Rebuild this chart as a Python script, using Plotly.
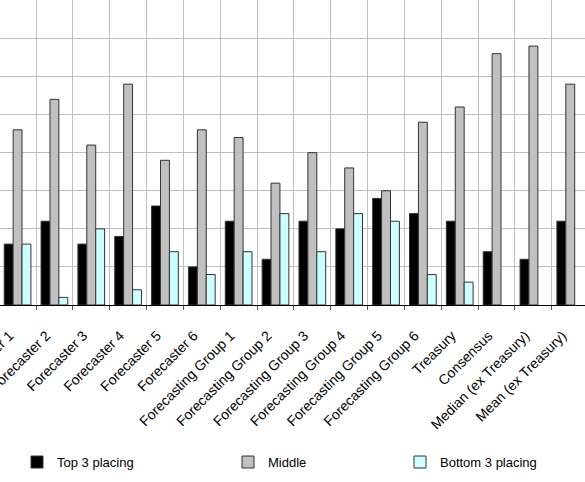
import plotly.graph_objects as go

categories = [
    "Forecaster 1", "Forecaster 2", "Forecaster 3", "Forecaster 4",
    "Forecaster 5", "Forecaster 6", "Forecasting Group 1", "Forecasting Group 2",
    "Forecasting Group 3", "Forecasting Group 4", "Forecasting Group 5",
    "Forecasting Group 6", "Treasury", "Consensus", "Median (ex Treasury)",
    "Mean (ex Treasury)",
]
top3 = [8, 11, 8, 9, 13, 5, 11, 6, 11, 10, 14, 12, 11, 7, 6, 11]
middle = [23, 27, 21, 29, 19, 23, 22, 16, 20, 18, 15, 24, 26, 33, 34, 29]
bottom3 = [8, 1, 10, 2, 7, 4, 7, 12, 7, 12, 11, 4, 3, 0, 0, 0]

series = [
    ("Top 3 placing", top3, "#000000", "legend"),
    ("Middle", middle, "#c0c0c0", "legend2"),
    ("Bottom 3 placing", bottom3, "#ccffff", "legend3"),
]

fig = go.Figure()
for name, vals, color, leg in series:
    fig.add_trace(go.Bar(
        x=categories, y=vals, name=name,
        marker=dict(color=color,
                    line=dict(color="#333333",
                              width=[0 if v == 0 else 1 for v in vals])),
        legend=leg, showlegend=True,
    ))

font = dict(family="Liberation Sans, Arial, sans-serif", size=13, color="#000000")
tick_font = dict(family="Liberation Sans, Arial, sans-serif", size=14, color="#000000")
legend_common = dict(orientation="h", yanchor="middle", y=-0.515, xanchor="left",
                     font=font, bgcolor="rgba(0,0,0,0)")

fig.update_layout(
    width=585, height=482,
    margin=dict(l=0, r=0, t=0, b=177, autoexpand=False),
    paper_bgcolor="white", plot_bgcolor="white",
    barmode="group", bargap=0.275, bargroupgap=0,
    font=font, showlegend=True,
    legend=dict(x=17 / 585, **legend_common),
    legend2=dict(x=228 / 585, **legend_common),
    legend3=dict(x=400 / 585, **legend_common),
    xaxis=dict(
        range=[-0.477, 15.40], automargin=False,
        tickson="boundaries", ticks="outside", ticklen=4, tickcolor="#555555",
        showgrid=True, gridcolor="#c0c0c0", gridwidth=1,
        showline=True, linecolor="#000000", linewidth=1,
        tickangle=-45, tickfont=tick_font,
        ticklabelstandoff=16, ticklabelshift=-8,
    ),
    yaxis=dict(
        range=[0, 40.05], dtick=5, showticklabels=False, automargin=False,
        showgrid=True, gridcolor="#c0c0c0", gridwidth=1,
        zeroline=False, showline=False,
    ),
)

fig.write_html("out.html")
